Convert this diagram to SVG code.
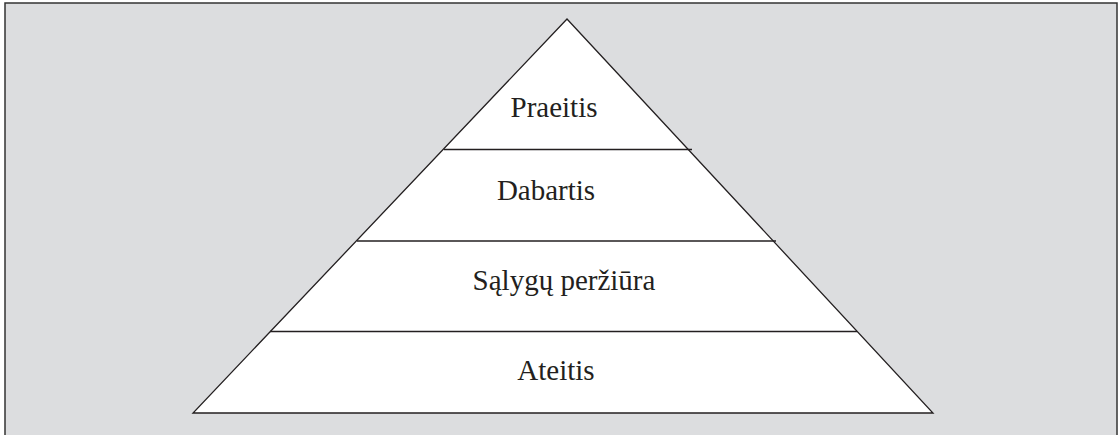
<svg xmlns="http://www.w3.org/2000/svg" width="1118" height="435" viewBox="0 0 1118 435">
<style>
.ln{stroke:#231f20;stroke-width:1.3;fill:none}
.tri{stroke:#231f20;stroke-width:1.3;fill:#ffffff}
.lb{font-family:"Liberation Serif","Times New Roman","DejaVu Serif",serif;font-size:29px;fill:#231f20;text-anchor:middle}
</style>
<rect x="0" y="0" width="1118" height="435" fill="#ffffff"/>
<rect x="5" y="3" width="1112" height="440" fill="#dcdddf" stroke="#333333" stroke-width="1.5"/>
<g id="pyramid">
<polygon class="tri" points="567,19 193,413 933,413"/>
</g>
<g id="connectors">
<line class="ln" x1="444" y1="149.5" x2="692" y2="149.5"/>
<line class="ln" x1="357" y1="241" x2="776" y2="241"/>
<line class="ln" x1="270" y1="331.5" x2="857" y2="331.5"/>
</g>
<g id="node-praeitis"><text class="lb" x="554" y="117">Praeitis</text></g>
<g id="node-dabartis"><text class="lb" x="546" y="200">Dabartis</text></g>
<g id="node-salygu"><text class="lb" x="564" y="290">Sąlygų peržiūra</text></g>
<g id="node-ateitis"><text class="lb" x="556" y="380">Ateitis</text></g>
</svg>
